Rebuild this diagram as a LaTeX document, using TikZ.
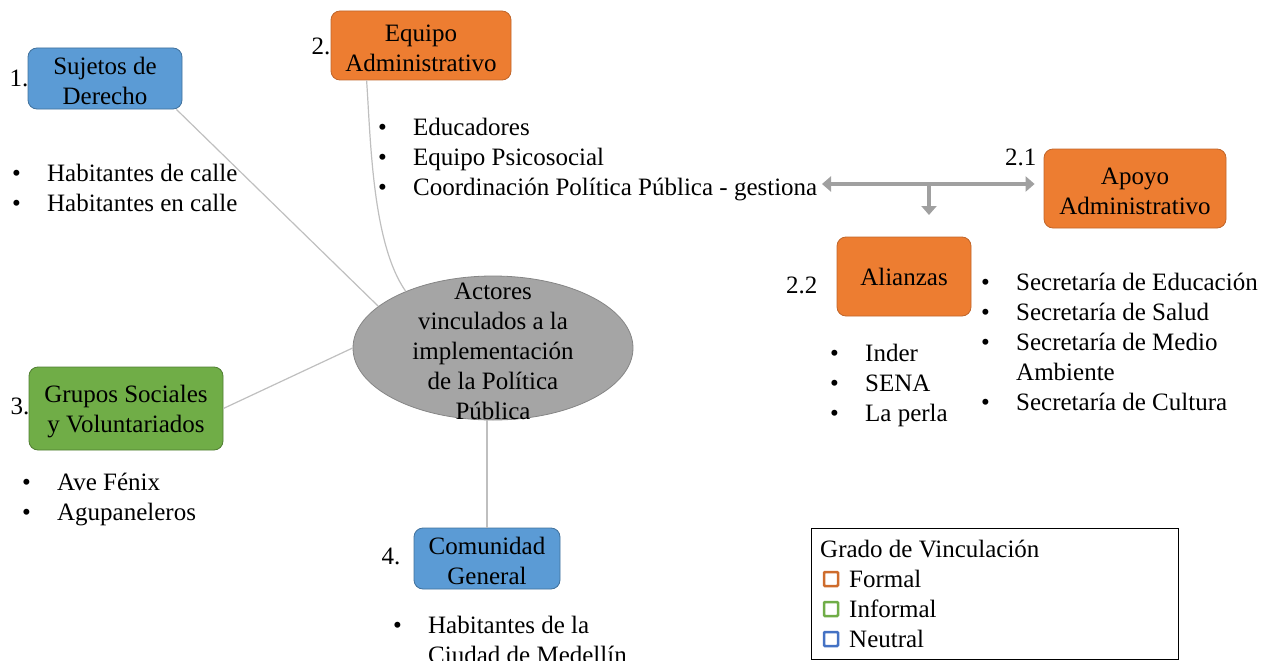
\documentclass[tikz,border=0pt]{standalone}
\usepackage{fontspec}
\setmainfont{Liberation Serif}
\usetikzlibrary{arrows.meta,shapes.geometric}
\definecolor{formal}{HTML}{ED7D31}
\definecolor{formalline}{HTML}{C0652A}
\definecolor{informal}{HTML}{70AD47}
\definecolor{informalline}{HTML}{507E32}
\definecolor{neutral}{HTML}{5B9BD5}
\definecolor{neutralline}{HTML}{41719C}
\definecolor{neutralleg}{HTML}{4472C4}
\definecolor{hub}{HTML}{A5A5A5}
\definecolor{hubline}{HTML}{858585}
\definecolor{linkgray}{HTML}{BFBFBF}
\definecolor{arrowgray}{HTML}{A0A0A0}
\newcommand{\bul}{\makebox[35pt][l]{\textbullet}}
\newcommand{\ind}{\hspace*{35pt}}
\newcommand{\boxtop}{\rule{0pt}{22.5pt}}
\tikzset{
 actor/.style={rounded corners=9pt, line width=0.8pt, align=center, inner sep=0pt},
 formalbox/.style={actor, fill=formal, draw=formalline},
 informalbox/.style={actor, fill=informal, draw=informalline},
 neutralbox/.style={actor, fill=neutral, draw=neutralline},
 items/.style={align=left, anchor=west, inner sep=0pt},
 num/.style={anchor=east, inner sep=0pt},
 tie/.style={draw=linkgray, line width=1.2pt},
 flow/.style={draw=arrowgray, line width=4.5pt, -{Triangle[width=15pt,length=9pt]}},
 legsq/.style={line width=2.5pt, rounded corners=1pt}
}
\begin{document}
\begin{tikzpicture}[x=1pt,y=-1pt,font=\fontsize{25}{30}\selectfont]
\useasboundingbox (0,0) rectangle (1269,661);

% centro
\node[ellipse, fill=hub, draw=hubline, line width=0.8pt, minimum width=280pt, minimum height=144pt] (act) at (493,348) {};
\node[align=center, inner sep=0pt] (acttext) at (493,351) {Actores\\vinculados a la\\implementación\\de la Política\\Pública};

% actores
\node[neutralbox, minimum width=154pt, minimum height=61pt] (suj) at (105,78.5) {\boxtop Sujetos de\\Derecho};
\node[num] (n1) at ([xshift=1pt]suj.west) {1.};
\node[formalbox, minimum width=180pt, minimum height=69pt] (equ) at (421,45.5) {\boxtop Equipo\\Administrativo};
\node[num] (n2) at ([xshift=0pt,yshift=-1pt]equ.west) {2.};
\node[formalbox, minimum width=182pt, minimum height=79pt] (apo) at (1135,188.5) {\boxtop Apoyo\\Administrativo};
\node[anchor=base east, inner sep=0pt] (n21) at ([xshift=-7pt,yshift=-17pt]apo.north west) {2.1};
\node[formalbox, minimum width=134pt, minimum height=79pt] (ali) at (904,276.5) {Alianzas};
\node[num] (n22) at ([xshift=-19pt,yshift=-9pt]ali.west) {2.2};
\node[informalbox, minimum width=194pt, minimum height=83pt] (gru) at (126,408.5) {\boxtop Grupos Sociales\\y Voluntariados};
\node[num] (n3) at ([xshift=1pt,yshift=2pt]gru.west) {3.};
\node[neutralbox, minimum width=146pt, minimum height=61pt] (com) at (487,558.5) {\boxtop Comunidad\\General};
\node[num] (n4) at ([xshift=-13pt,yshift=2pt]com.west) {4.};

% listas
\node[items] (sujlist) at (12,188) {\bul Habitantes de calle\\\bul Habitantes en calle};
\node[items] (equlist) at (378,160) {\bul Educadores\\\bul Equipo Psicosocial\\\bul Coordinación Política Pública - gestiona};
\node[items] (alilist) at (830,385) {\bul Inder\\\bul SENA\\\bul La perla};
\node[items] (seclist) at (981,342) {\bul Secretaría de Educación\\\bul Secretaría de Salud\\\bul Secretaría de Medio\\\ind Ambiente\\\bul Secretaría de Cultura};
\node[items] (grulist) at (22,500) {\bul Ave Fénix\\\bul Agupaneleros};
\node[items] (comlist) at (393,640) {\bul Habitantes de la\\\ind Ciudad de Medellín};

% conexiones
\draw[tie] ([xshift=-6pt]suj.south east) -- (act.160);
\draw[tie] ([xshift=36pt]equ.south west) to[out=-86,in=125,looseness=0.7] (act.147);
\draw[tie] (gru.east) -- (act.west);
\draw[tie] (com.north) -- (com.north |- act.south);

% flechas
\coordinate (gl) at (822,184);
\coordinate (br) at (929,184);
\draw[flow, {Triangle[width=15pt,length=9pt]}-{Triangle[width=15pt,length=9pt]}] (gl) -- ([xshift=-9pt]apo.west |- gl);
\draw[flow] (br) -- ++(0,31);

% leyenda
\draw[line width=0.8pt] (811,528) rectangle (1178,659);
\node[anchor=west, inner sep=0pt] (legtitle) at (820,549) {Grado de Vinculación};
\draw[legsq, formalline!70!formal] (824,572) rectangle ++(14,14);
\node[anchor=west, inner sep=0pt] (legf) at (849,579) {Formal};
\draw[legsq, informal] (824,602) rectangle ++(14,14);
\node[anchor=west, inner sep=0pt] (legi) at (849,609) {Informal};
\draw[legsq, neutralleg] (824,632) rectangle ++(14,14);
\node[anchor=west, inner sep=0pt] (legn) at (849,639) {Neutral};
\end{tikzpicture}
\end{document}
